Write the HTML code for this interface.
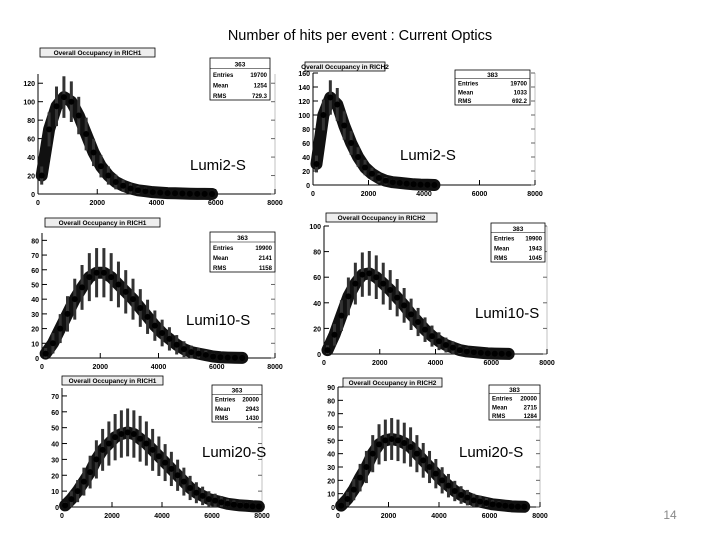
<!DOCTYPE html>
<html><head><meta charset="utf-8"><style>
body{margin:0;background:#fff;width:720px;height:540px;overflow:hidden;font-family:"Liberation Sans",sans-serif}
svg{position:absolute;left:0;top:0}
</style></head><body>
<svg id="s" width="720" height="540">
<text x="360" y="40" text-anchor="middle" font-size="14.5" font-family="Liberation Sans, sans-serif">Number of hits per event : Current Optics</text>
<text x="670" y="519" text-anchor="middle" font-size="12" fill="#888">14</text>
</svg>
<script>
// bin counts, 250-wide bins from 0
const p1Vals=[20,70,95,105,100,85,65,45,30,20,13,9,6,4,3,2,1.5,1,0.8,0.5,0.3,0.2,0.1,0];
const p2Vals=[30,100,125,115,85,60,40,25,16,10,6,4,3,2,1,0.5,0.3,0];
const p3Vals=[3,10,20,30,40,48,55,58,58,55,50,45,40,34,28,22,17,13,9,6,4,3,2,1,0.5,0.3,0.2,0.1];
const p4Vals=[3,15,30,45,55,62,63,60,55,50,44,38,31,25,19,14,10,7,5,3,2,1.5,1,0.5,0.3,0.2,0.1];
const p5Vals=[1,5,10,16,22,30,36,40,44,46,47,46,43,40,36,32,28,24,20,16,12,9,7,5,4,3,2,1.5,1,0.8,0.5,0.3];
const p6Vals=[1,6,13,22,30,40,47,50,51,50,48,45,40,35,30,25,20,16,12,9,7,5,4,3,2,1.5,1,0.5,0.3,0.2];
const p1Y=[0,20,40,60,80,100,120], p2Y=[0,20,40,60,80,100,120,140,160];
const p3Y=[0,10,20,30,40,50,60,70,80], p4Y=[0,20,40,60,80,100];
const p5Y=[0,10,20,30,40,50,60,70], p6Y=[0,10,20,30,40,50,60,70,80,90];
const xTicks=[0,2000,4000,6000,8000];
const panels=[
 {n:'rich1-lumi2',t:'Overall Occupancy in RICH1',v:p1Vals,yt:p1Y,ymax:130,x0:38,x1:275,y0:194,y1:74,tb:[40,48,115],sb:[210,58,60,42],st:['363','19700','1254','729.3'],lab:'Lumi2-S',lx:190,ly:170},
 {n:'rich2-lumi2',t:'Overall Occupancy in RICH2',v:p2Vals,yt:p2Y,ymax:160,x0:313,x1:535,y0:185,y1:73,tb:[305,62,80],sb:[455,70,75,35],st:['383','19700','1033','692.2'],lab:'Lumi2-S',lx:400,ly:160},
 {n:'rich1-lumi10',t:'Overall Occupancy in RICH1',v:p3Vals,yt:p3Y,ymax:85,x0:42,x1:275,y0:358,y1:233,tb:[45,218,115],sb:[210,232,65,40],st:['363','19900','2141','1158'],lab:'Lumi10-S',lx:186,ly:325},
 {n:'rich2-lumi10',t:'Overall Occupancy in RICH2',v:p4Vals,yt:p4Y,ymax:100,x0:324,x1:547,y0:354,y1:226,tb:[326,213,111],sb:[491,223,54,39],st:['383','19900','1943','1045'],lab:'Lumi10-S',lx:475,ly:318},
 {n:'rich1-lumi20',t:'Overall Occupancy in RICH1',v:p5Vals,yt:p5Y,ymax:75,x0:62,x1:262,y0:507,y1:388,tb:[62,376,101],sb:[212,385,50,37],st:['363','20000','2943','1430'],lab:'Lumi20-S',lx:202,ly:457},
 {n:'rich2-lumi20',t:'Overall Occupancy in RICH2',v:p6Vals,yt:p6Y,ymax:90,x0:338,x1:540,y0:507,y1:387,tb:[343,378,99],sb:[489,385,51,35],st:['383','20000','2715','1284'],lab:'Lumi20-S',lx:459,ly:457}
];
const S=document.getElementById('s'),NS='http://www.w3.org/2000/svg';
function el(tag,at,par){const e=document.createElementNS(NS,tag);for(const k in at)e.setAttribute(k,at[k]);(par||S).appendChild(e);return e;}
panels.forEach(p=>{
 const g=el('g',{});
 
 
 const X=v=>p.x0+(v/8000)*(p.x1-p.x0);
 const Y=v=>p.y0-(v/p.ymax)*(p.y0-p.y1);
 el('line',{x1:p.x1,y1:p.y0,x2:p.x1,y2:p.y1,stroke:'#999','stroke-width':0.6},g);
 el('line',{x1:p.x0,y1:p.y0,x2:p.x1,y2:p.y0,stroke:'#000','stroke-width':1},g);
 el('line',{x1:p.x0,y1:p.y0,x2:p.x0,y2:p.y1,stroke:'#000','stroke-width':1},g);
 p.yt.forEach(v=>{const y=Y(v);el('line',{x1:p.x0,y1:y,x2:p.x0+5,y2:y,stroke:'#000'},g);
  el('line',{x1:p.x1,y1:y,x2:p.x1-4,y2:y,stroke:'#666'},g);
  const t=el('text',{x:p.x0-3,y:y+3,'text-anchor':'end','font-size':7,'font-weight':'bold'},g);t.textContent=v;});
 xTicks.forEach(v=>{const x=X(v);el('line',{x1:x,y1:p.y0,x2:x,y2:p.y0-5,stroke:'#000'},g);
  const t=el('text',{x:x,y:p.y0+11,'text-anchor':'middle','font-size':7,'font-weight':'bold'},g);t.textContent=v;});
 el('rect',{x:p.tb[0],y:p.tb[1],width:p.tb[2],height:9,fill:'#eee',stroke:'#000','stroke-width':0.8},g);
 const tt=el('text',{x:p.tb[0]+p.tb[2]/2,y:p.tb[1]+7,'text-anchor':'middle','font-size':6.5,'font-weight':'bold'},g);tt.textContent=p.t;
 const pts=p.v.map((v,i)=>[X(i*250+125),Y(v)]);
 const pl=el('polyline',{points:pts.map(q=>q.join(',')).join(' '),fill:'none',stroke:'#111','stroke-width':12,'stroke-linejoin':'round','stroke-linecap':'round'},g);
 
 
 p.v.forEach((v,i)=>{const x=X(i*250+125),y=Y(v),e=Math.sqrt(v)*2.2;
  el('line',{x1:x,y1:Y(v+e),x2:x,y2:Y(Math.max(0,v-e)),stroke:'#333','stroke-width':3},g);
  const c=el('circle',{cx:x,cy:y,r:3,fill:'#000'},g);
  
  });
 const [sx,sy,sw,sh]=p.sb;
 const sg=el('g',{},g);
 
 
 el('rect',{x:sx,y:sy,width:sw,height:sh,fill:'#fff',stroke:'#000','stroke-width':0.8},sg);
 el('line',{x1:sx,y1:sy+sh/4,x2:sx+sw,y2:sy+sh/4,stroke:'#000','stroke-width':0.6},sg);
 let t=el('text',{x:sx+sw/2,y:sy+sh/4-2,'text-anchor':'middle','font-size':6.5,'font-weight':'bold'},sg);t.textContent=p.st[0];
 ['Entries','Mean','RMS'].forEach((k,i)=>{const yy=sy+sh/4+(i+1)*sh/4-2;
  let a=el('text',{x:sx+3,y:yy,'font-size':6,'font-weight':'bold'},sg);a.textContent=k;
  let b=el('text',{x:sx+sw-3,y:yy,'text-anchor':'end','font-size':6,'font-weight':'bold'},sg);b.textContent=p.st[i+1];});
 const l=el('text',{x:p.lx,y:p.ly,'font-size':15,fill:'#000'},g);l.textContent=p.lab;
 
 
});
</script>
</body></html>
